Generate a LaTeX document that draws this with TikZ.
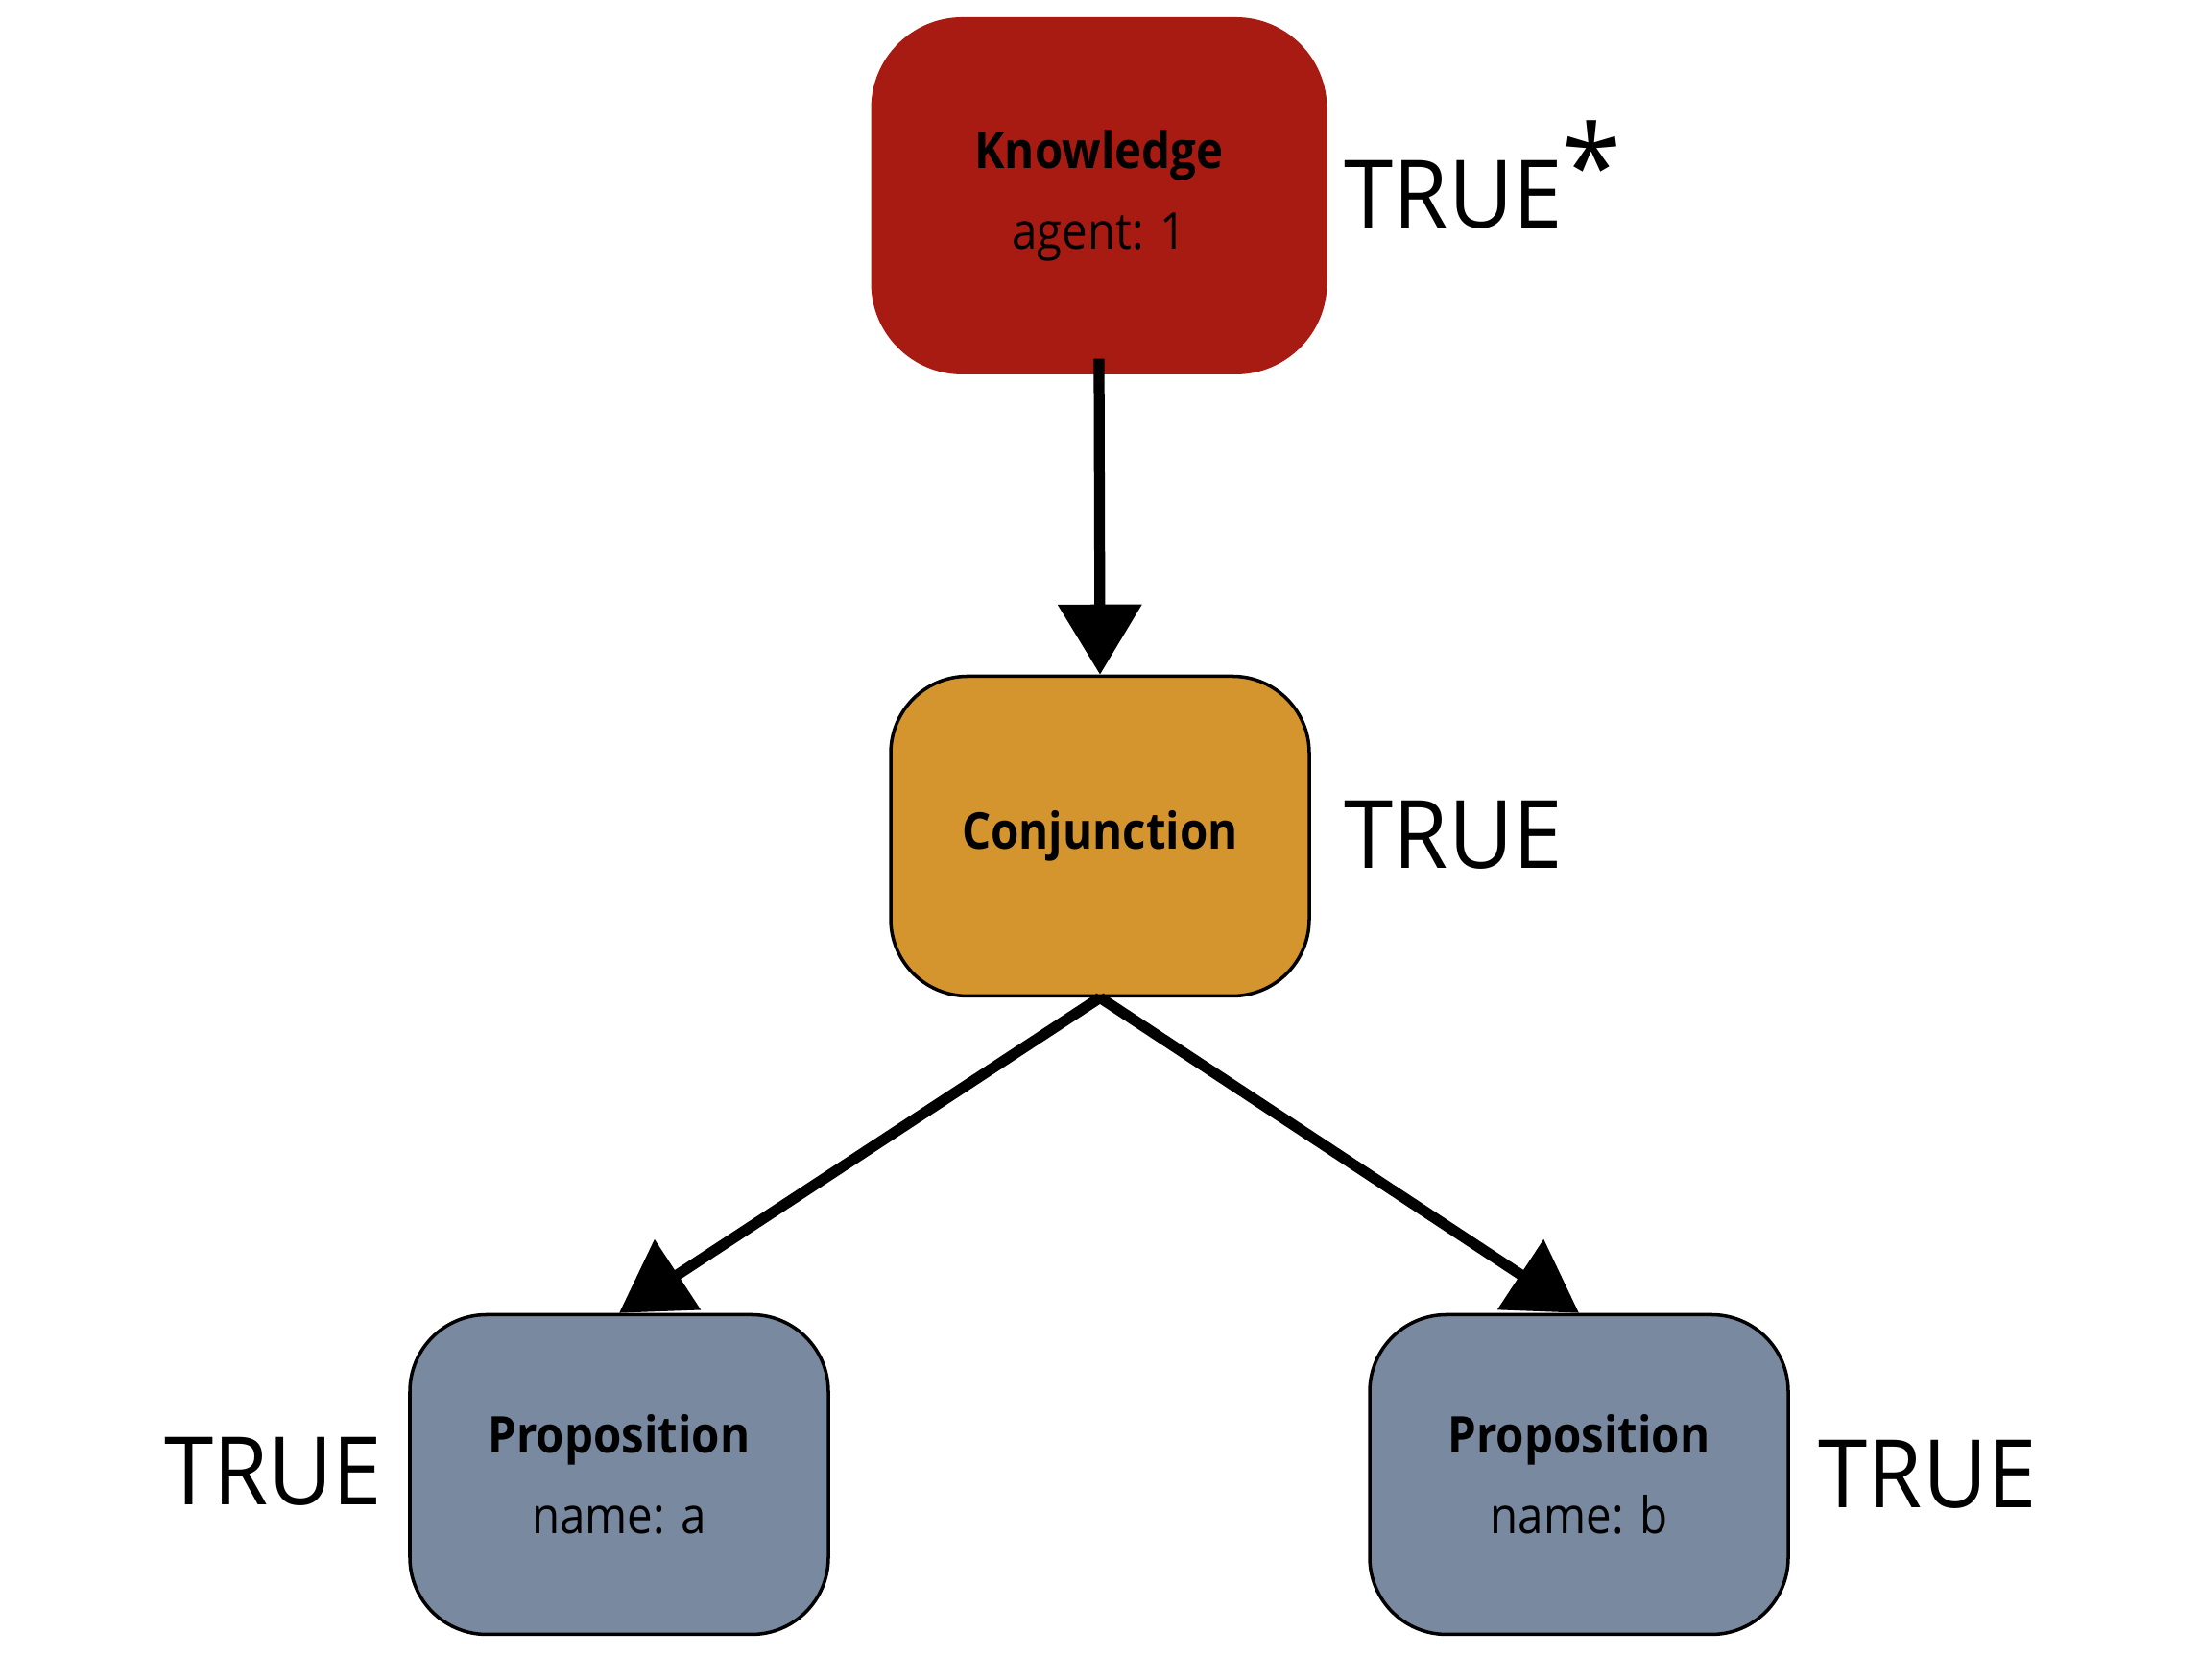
\documentclass[tikz,border=0pt]{standalone}
\usepackage{fontspec}
\setmainfont{Open Sans}
\newfontfamily\condfont[FakeStretch=0.9]{Open Sans}
\newfontfamily\truefont[FakeStretch=0.94]{Open Sans}
\usetikzlibrary{positioning,arrows.meta}
\definecolor{KnowRed}{HTML}{A81B13}
\definecolor{ConjOrange}{HTML}{D4952E}
\definecolor{PropSlate}{HTML}{7989A0}

\tikzset{
  gnode/.style={rounded corners=8mm,minimum width=4.36cm,minimum height=3.33cm,align=center,inner sep=0pt,font=\condfont\fontsize{15}{24}\selectfont},
  edge/.style={line width=3.2pt,-{Triangle[length=7.3mm,width=8.5mm]}},
  truth/.style={anchor=base west,inner sep=0pt,font=\truefont\fontsize{28}{30}\selectfont},
}

\begin{document}
\begin{tikzpicture}[line join=round]
  \useasboundingbox (0,0) rectangle (22.92,17.5);
  % nodes
  \node[gnode,fill=KnowRed,rounded corners=9.5mm,minimum width=4.75cm,minimum height=3.72cm] (know) at (11.45,15.46) {\textbf{Knowledge}\\agent: 1};
  \node[gnode,fill=ConjOrange,draw,line width=1pt] (conj) at (11.46,8.79) {\textbf{Conjunction}};
  \node[gnode,fill=PropSlate,draw,line width=1pt] (propa) at (6.45,2.14) {\textbf{Proposition}\\name: a};
  \node[gnode,fill=PropSlate,draw,line width=1pt] (propb) at (16.45,2.14) {\textbf{Proposition}\\name: b};
  % truth values
  \node[truth] (tknow) at (14.0,15.12) {TRUE\raisebox{6pt}{\fontsize{34}{34}\selectfont *}};
  \node[truth] (tconj) at (14.0,8.45) {TRUE};
  \node[truth,anchor=base east] (tpropa) at (3.99,1.82) {TRUE};
  \node[truth] (tpropb) at (18.94,1.79) {TRUE};
  % edges
  \draw[edge] ([yshift=1.7mm]know.south) -- (conj.north);
  \draw[edge] (conj.south) -- (propa.north);
  \draw[edge] (conj.south) -- (propb.north);
\end{tikzpicture}
\end{document}
